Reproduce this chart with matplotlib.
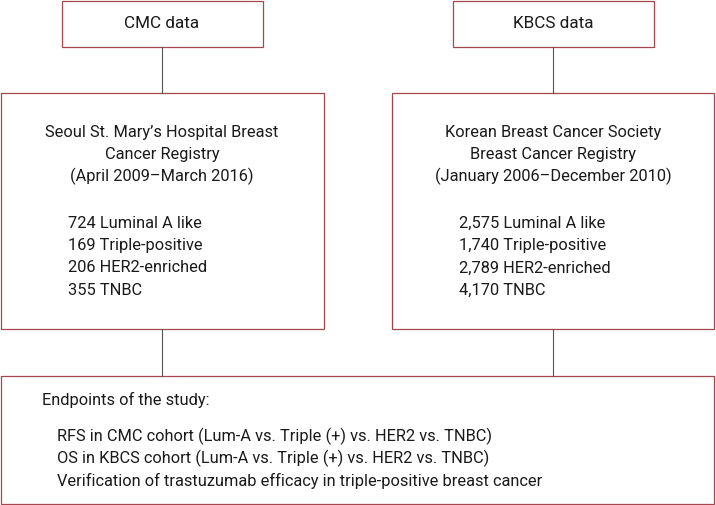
import matplotlib
matplotlib.use("Agg")
import matplotlib.pyplot as plt
from matplotlib.patches import Rectangle

# chart content
sources = ["CMC data", "KBCS data"]
registries = [
    "Seoul St. Mary\u2019s Hospital Breast\nCancer Registry\n(April 2009\u2013March 2016)",
    "Korean Breast Cancer Society\nBreast Cancer Registry\n(January 2006\u2013December 2010)",
]
subtypes = ["Luminal A like", "Triple-positive", "HER2-enriched", "TNBC"]
cmc_counts = [724, 169, 206, 355]
kbcs_counts = [2575, 1740, 2789, 4170]
endpoint_title = "Endpoints of the study:"
endpoints = [
    "RFS in CMC cohort (Lum-A vs. Triple (+) vs. HER2 vs. TNBC)",
    "OS in KBCS cohort (Lum-A vs. Triple (+) vs. HER2 vs. TNBC)",
    "Verification of trastuzumab efficacy in triple-positive breast cancer",
]

plt.rcParams['font.family'] = ['Roboto', 'DejaVu Sans']

edge = "#a5474f"
link = "#555555"
txt = "#1a1a1a"
fs = 11.8

fig = plt.figure(figsize=(7.16, 5.05), dpi=100)
ax = fig.add_axes([0, 0, 1, 1])
ax.set_xlim(0, 716)
ax.set_ylim(505, 0)
ax.axis("off")


def box(x0, y0, x1, y1):
    ax.add_patch(Rectangle((x0, y0), x1 - x0, y1 - y0, fill=False,
                           edgecolor=edge, linewidth=0.9))


top = [(62, 263), (453, 654)]
mid = [(1, 324), (392, 714)]
centers = [162, 553]
counts = [cmc_counts, kbcs_counts]
list_x = [68, 459]

for i in range(2):
    box(top[i][0], 0.5, top[i][1], 47)
    ax.text(centers[i], 24, sources[i], ha="center", va="center",
            fontsize=fs + 0.5, color=txt)
    ax.plot([centers[i], centers[i]], [47, 92.5], color=link, lw=0.8)
    box(mid[i][0], 92.5, mid[i][1], 329)
    for k, line in enumerate(registries[i].split("\n")):
        ax.text(centers[i], 132 + k * 22, line, ha="center", va="center",
                fontsize=fs, color=txt)
    for j, (n, s) in enumerate(zip(counts[i], subtypes)):
        ax.text(list_x[i], 223 + j * 22.5, f"{n:,} {s}", ha="left",
                va="center", fontsize=fs, color=txt)
    ax.plot([centers[i], centers[i]], [329, 376], color=link, lw=0.8)

box(1, 376, 714, 504)
ax.text(42, 400, endpoint_title, ha="left", va="center", fontsize=fs, color=txt)
for k, e in enumerate(endpoints):
    ax.text(57, 436 + k * 22.5, e, ha="left", va="center", fontsize=fs, color=txt)

fig.savefig("out.png", dpi=100)
